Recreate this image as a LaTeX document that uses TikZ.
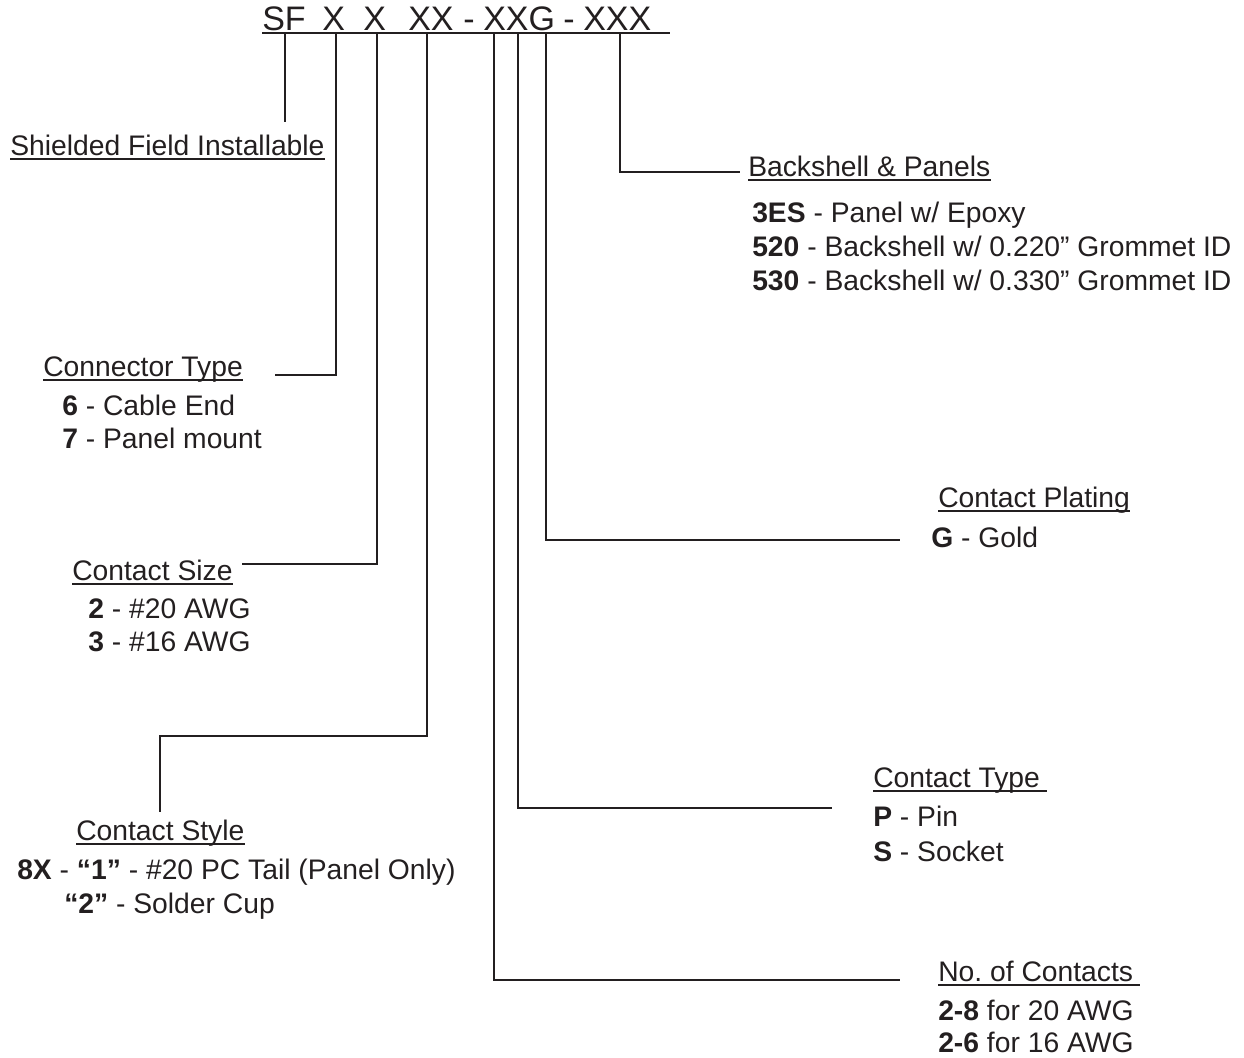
\documentclass[tikz,border=0pt]{standalone}
\usepackage{fontspec}
\setmainfont{Liberation Sans}
\usetikzlibrary{calc}
\definecolor{ink}{RGB}{35,31,32}
\frenchspacing
\begin{document}
\begin{tikzpicture}[x=0.75pt,y=-0.75pt,
  lbl/.style={anchor=base west,inner sep=0pt,font=\fontsize{21.2}{25}\selectfont,text=ink},
  hdr/.style={anchor=base west,inner sep=0pt,font=\fontsize{25.5}{30}\selectfont,text=ink},
  lead/.style={draw=ink,line width=1.1pt},
  ul/.style={draw=ink,line width=1.2pt}]
\useasboundingbox (0,0) rectangle (1244,1057);
% header
\node[hdr] (hSF) at (262,30) {SF};
\node[hdr] (hX1) at (322,30) {X};
\node[hdr] (hX2) at (363,30) {X};
\node[hdr] (hXX) at (408,30) {XX};
\node[hdr] (hd1) at (463,30) {-};
\node[hdr] (hXXG) at (483,30) {XXG};
\node[hdr] (hd2) at (563,30) {-};
\node[hdr] (hXXX) at (583,30) {XXX};
\coordinate (uL) at (262,33);
\coordinate (uR) at (670,33);
\draw[ul,line width=1.4pt] (uL) -- (uR);
% ticks
\coordinate (t1) at (285,33);
\coordinate (t2) at (336,33);
\coordinate (t3) at (377,33);
\coordinate (t4) at (427,33);
\coordinate (t5) at (494,33);
\coordinate (t6) at (518,33);
\coordinate (t7) at (546,33);
\coordinate (t8) at (620,33);
% labels
\node[lbl] (sfi) at (10,155) {Shielded Field Installable};
\node[lbl] (bsp) at (748,176) {Backshell \& Panels};
\node[lbl] (bs1) at (752,222) {\textbf{3ES} - Panel w/ Epoxy};
\node[lbl] (bs2) at (752,256) {\textbf{520} - Backshell w/ 0.220” Grommet ID};
\node[lbl] (bs3) at (752,290) {\textbf{530} - Backshell w/ 0.330” Grommet ID};
\node[lbl] (cnt) at (43,376) {Connector Type};
\node[lbl] (cnt1) at (62,415) {\textbf{6} - Cable End};
\node[lbl] (cnt2) at (62,448) {\textbf{7} - Panel mount};
\node[lbl] (csz) at (72,580) {Contact Size};
\node[lbl] (csz1) at (88,618) {\textbf{2} - \#20 AWG};
\node[lbl] (csz2) at (88,651) {\textbf{3} - \#16 AWG};
\node[lbl] (cst) at (76,840) {Contact Style};
\node[lbl] (cst1) at (17,879) {\textbf{8X} - \textbf{“1”} - \#20 PC Tail (Panel Only)};
\node[lbl] (cst2) at (64,913) {\textbf{“2”} - Solder Cup};
\node[lbl] (cpl) at (938,507) {Contact Plating};
\node[lbl] (cpl1) at (931,547) {\textbf{G} - Gold};
\node[lbl] (cty) at (873,787) {Contact Type\kern5pt};
\node[lbl] (cty1) at (873,826) {\textbf{P} - Pin};
\node[lbl] (cty2) at (873,861) {\textbf{S} - Socket};
\node[lbl] (noc) at (938,981) {No. of Contacts\kern5pt};
\node[lbl] (noc1) at (938,1020) {\textbf{2-8} for 20 AWG};
\node[lbl] (noc2) at (938,1052) {\textbf{2-6} for 16 AWG};
% underlines
\foreach \n in {sfi,bsp,cnt,csz,cst,cpl,cty,noc}{
  \draw[ul] ($(\n.base west)+(0,4)$) -- ($(\n.base east)+(0,4)$);
}
% leader end points
\coordinate (e1) at (285,122);
\coordinate (e2) at (275,375);
\coordinate (e3) at (242,564);
\coordinate (k4) at (160,736);
\coordinate (e4) at (160,812);
\coordinate (e5) at (900,980);
\coordinate (e6) at (832,808);
\coordinate (e7) at (900,540);
\coordinate (e8) at (740,172);
% leaders
\draw[lead] (t1) -- (e1);
\draw[lead] (t2) |- (e2);
\draw[lead] (t3) |- (e3);
\draw[lead] (t4) |- (k4) -- (e4);
\draw[lead] (t5) |- (e5);
\draw[lead] (t6) |- (e6);
\draw[lead] (t7) |- (e7);
\draw[lead] (t8) |- (e8);
\end{tikzpicture}
\end{document}
